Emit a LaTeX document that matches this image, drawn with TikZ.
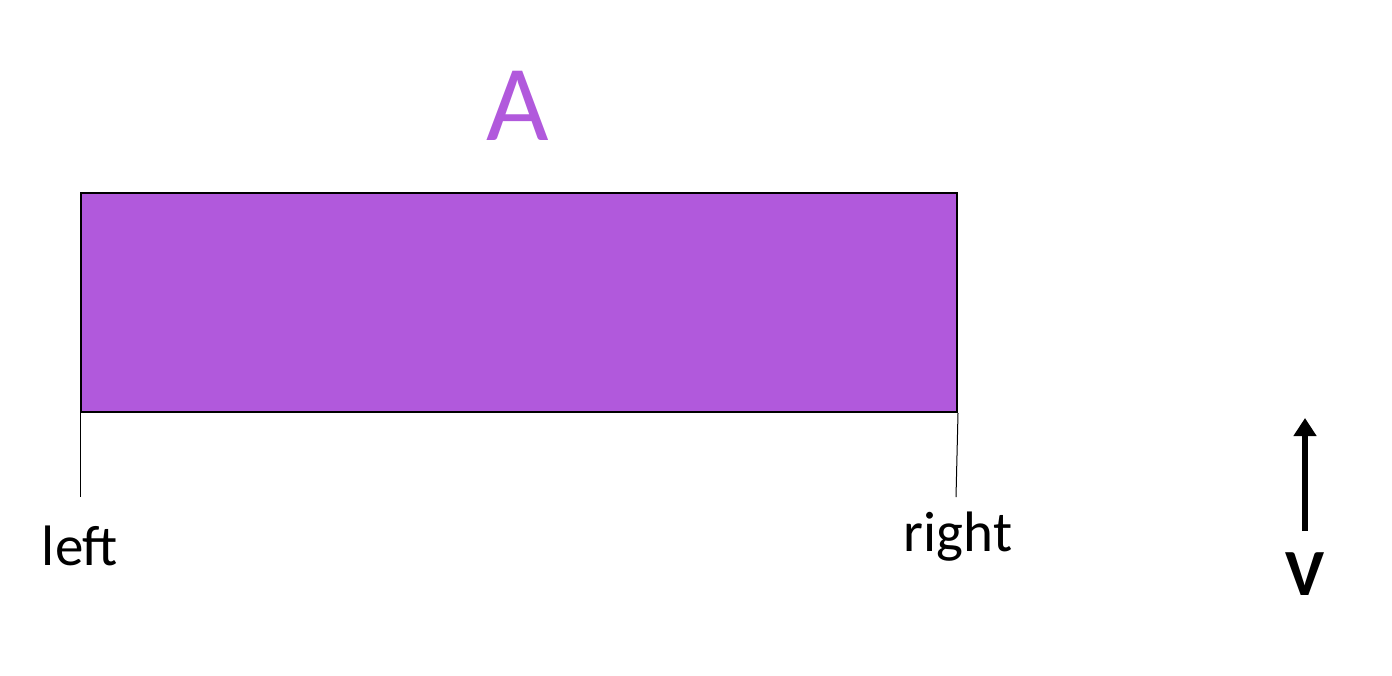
\documentclass[tikz,border=0pt]{standalone}
\usepackage{fontspec}
\setmainfont{Carlito}
\usetikzlibrary{arrows.meta}
\definecolor{barpurple}{HTML}{B159DC}
\tikzset{
  lbl/.style={anchor=base, inner sep=0pt, font=\fontsize{57}{68}\selectfont},
  edge/.style={draw=black, line width=1pt},
}
\begin{document}
\begin{tikzpicture}[x=1pt,y=-1pt]
\useasboundingbox (0,0) rectangle (1392,675);
\node[draw=black, line width=2pt, fill=barpurple, minimum width=876pt, minimum height=219pt, inner sep=0pt, anchor=north west] (bar) at (80,192) {};
\coordinate (lend) at (80,497);
\coordinate (rend) at (956,497);
\draw[edge] (bar.south west) -- (lend);
\draw[edge] (bar.south east) -- (rend);
\node[lbl] (left) at (80,565) {left};
\node[lbl] (right) at (958,551) {right};
\node[anchor=base, inner sep=0pt, text=barpurple, font=\fontsize{108}{120}\selectfont] (A) at (518,140) {A};
\coordinate (vtail) at (1305,531);
\coordinate (vtip) at (1305,418);
\draw[line width=6pt, -{Triangle[width=22pt,length=18pt]}] (vtail) -- (vtip);
\node[anchor=base, inner sep=0pt, font=\fontsize{66}{80}\selectfont\bfseries] (V) at (1305,595) {V};
\end{tikzpicture}
\end{document}
